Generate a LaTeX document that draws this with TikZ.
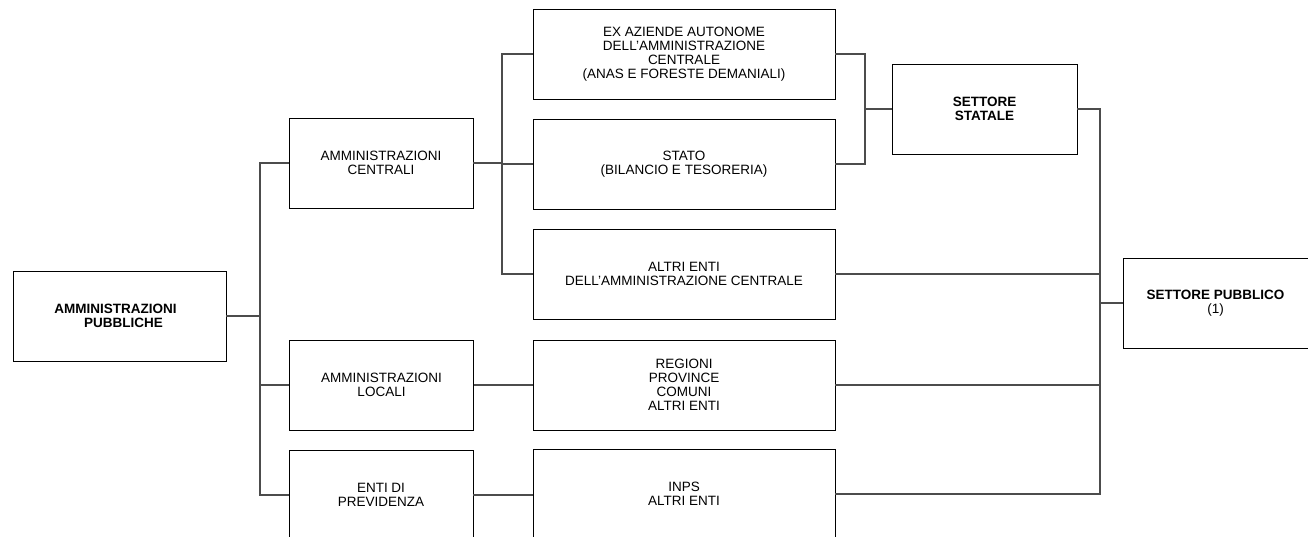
\documentclass[tikz,border=0pt]{standalone}
\usepackage{fontspec}
\setmainfont{Liberation Sans}
\usepackage{tikz}
\usetikzlibrary{%
   calc,%
   positioning}

\newcommand{\boxfont}{\fontsize{13.5}{14}\selectfont}

\begin{document}
\begin{tikzpicture}
[x=1pt, y=-1pt,
 typeP/.style={rectangle,draw,line width=0.9pt,inner sep=0pt,minimum width=213pt,minimum height=90pt,align=center,font=\boxfont\bfseries},
 typeA/.style={rectangle,draw,line width=0.9pt,inner sep=0pt,minimum width=184pt,minimum height=90pt,align=center,font=\boxfont},
 typeE/.style={rectangle,draw,line width=0.9pt,inner sep=0pt,minimum width=302pt,minimum height=90pt,align=center,font=\boxfont},
 typeS/.style={rectangle,draw,line width=0.9pt,inner sep=0pt,minimum width=185pt,minimum height=90pt,align=center,font=\boxfont\bfseries},
 hv path/.style={line width=1.1pt, draw=black!70, to path={-| (\tikztotarget)}},
 vh path/.style={line width=1.1pt, draw=black!70, to path={|- (\tikztotarget)}}]
\useasboundingbox (0,0) rectangle (1308,537);
\begin{scope}
% left column
\node[typeP] (AP)  at ( 119.5, 316) {AMMINISTRAZIONI\hspace*{8pt}\\\hspace*{8pt}PUBBLICHE};
\node[typeA] (AC)  at ( 381  , 163) {AMMINISTRAZIONI\\CENTRALI};
\node[typeA] (AL)  at ( 381.5, 385) {AMMINISTRAZIONI\\LOCALI};
\node[typeA] (EP)  at ( 381  , 495) {ENTI DI\\PREVIDENZA};
% enti
\node[typeE] (EX)  at ( 684  , 54 ) {EX AZIENDE AUTONOME\\DELL’AMMINISTRAZIONE\\CENTRALE\\(ANAS E FORESTE DEMANIALI)};
\node[typeE] (ST)  at ( 684  , 164) {STATO\\(BILANCIO E TESORERIA)};
\node[typeE] (AE)  at ( 684  , 274) {ALTRI ENTI\\DELL’AMMINISTRAZIONE CENTRALE};
\node[typeE] (RE)  at ( 684  , 385) {REGIONI\\PROVINCE\\COMUNI\\ALTRI ENTI};
\node[typeE] (IN)  at ( 684  , 494) {INPS\\ALTRI ENTI};
% settori
\node[typeS] (SS)  at ( 984.5, 109) {SETTORE\\STATALE};
\node[typeS] (SP)  at (1215.5, 303) {SETTORE PUBBLICO\\{\mdseries (1)}};
\coordinate (jAP) at ( 260, 316);
\coordinate (jAC) at ( 502, 163);
\coordinate (jSS) at ( 865, 109);
\coordinate (jSP) at (1100, 303);
\path (AP.east)  edge[hv path] (jAP)
      (jAP)      edge[vh path] (AC.west)
                 edge[vh path] (AL.west)
                 edge[vh path] (EP.west)
      (AC.east)  edge[hv path] (jAC)
      (jAC)      edge[vh path] (EX.west)
                 edge[vh path] (ST.west)
                 edge[vh path] (AE.west)
      (AL.east)  edge[hv path] (RE.west)
      (EP.east)  edge[hv path] (IN.west)
      (EX.east)  edge[hv path] (jSS)
      (ST.east)  edge[hv path] (jSS)
      (jSS)      edge[hv path] (SS.west)
      (SS.east)  edge[hv path] (jSP)
      (AE.east)  edge[hv path] (jSP)
      (RE.east)  edge[hv path] (jSP)
      (IN.east)  edge[hv path] (jSP)
      (jSP)      edge[hv path] (SP.west);
\end{scope}
\end{tikzpicture}
\end{document}
